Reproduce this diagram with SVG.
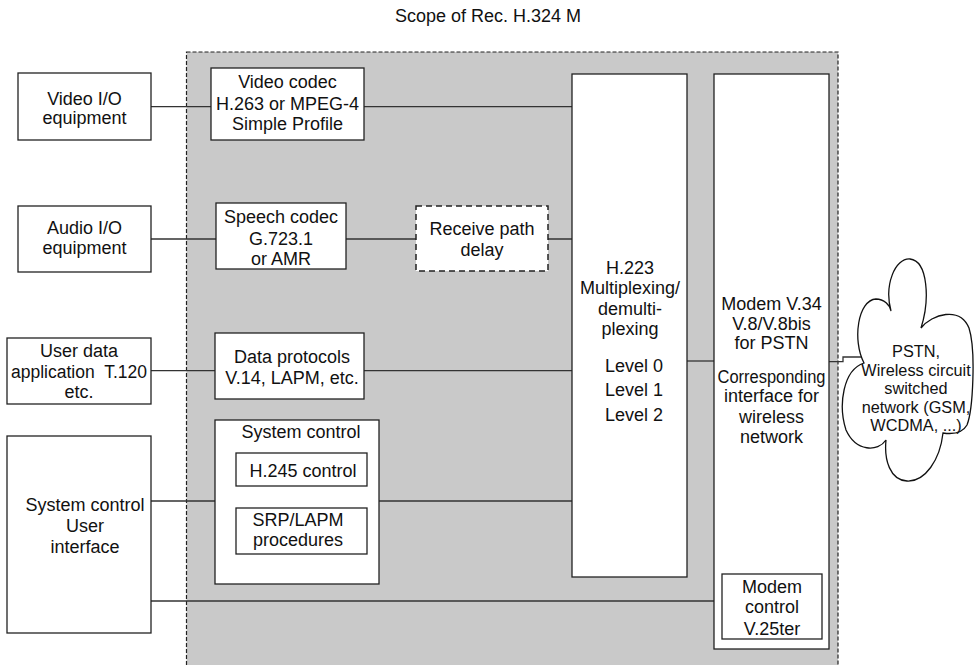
<svg xmlns="http://www.w3.org/2000/svg" width="974" height="665" viewBox="0 0 974 665">
<style>
text{font-family:"Liberation Sans",Arial,Helvetica,sans-serif;font-size:18px;fill:#111;text-anchor:middle}
.t{text-anchor:start}
.cl{font-size:16.3px}
.box{fill:#fff;stroke:#222;stroke-width:1.3}
.dbox{fill:#fff;stroke:#222;stroke-width:1.5;stroke-dasharray:6 4}
.scope{fill:#c9c9c9;stroke:#222;stroke-width:1.2;stroke-dasharray:4 2}
.ln{fill:none;stroke:#333;stroke-width:1.3}
</style>
<rect width="974" height="665" fill="#fff"/>
<text class="t" x="395" y="22">Scope of Rec. H.324 M</text>
<rect id="scope" class="scope" x="186.5" y="52" width="651.5" height="630"/>

<g id="connectors">
<path class="ln" d="M151,106.7H211M364,106.7H572"/>
<path class="ln" d="M151,239H216M346,239H416M548,239H572"/>
<path class="ln" d="M151,370.7H215M364,370.7H572"/>
<path class="ln" d="M151,501H215M379,501H572"/>
<path class="ln" d="M151,601H722"/>
<path class="ln" d="M687,361H714"/>
<path class="ln" d="M829,361.7H843V357H864"/>
</g>

<g id="video-io"><rect class="box" x="18" y="73" width="133" height="67"/>
<text x="84.5" y="104.5">Video I/O</text><text x="84.5" y="124">equipment</text></g>
<g id="audio-io"><rect class="box" x="18" y="206" width="133" height="66"/>
<text x="84.5" y="234">Audio I/O</text><text x="84.5" y="253.5">equipment</text></g>
<g id="user-data"><rect class="box" x="7" y="338" width="144" height="66"/>
<text x="79" y="357">User data</text><text x="79" y="378" textLength="136" lengthAdjust="spacingAndGlyphs" xml:space="preserve">application  T.120</text><text x="79" y="398">etc.</text></g>
<g id="sys-ui"><rect class="box" x="7" y="436" width="144" height="197"/>
<text x="85" y="510.5">System control</text><text x="85" y="532">User</text><text x="85" y="553">interface</text></g>

<g id="video-codec"><rect class="box" x="211" y="68" width="153" height="72"/>
<text x="287.5" y="88">Video codec</text><text x="287.5" y="109.5">H.263 or MPEG-4</text><text x="287.5" y="129.5">Simple Profile</text></g>
<g id="speech-codec"><rect class="box" x="216" y="203" width="130" height="66"/>
<text x="281" y="223">Speech codec</text><text x="281" y="244.5">G.723.1</text><text x="281" y="265">or AMR</text></g>
<g id="rx-delay"><rect class="dbox" x="416" y="206" width="132" height="65"/>
<text x="482" y="234.5">Receive path</text><text x="482" y="255.5">delay</text></g>
<g id="data-proto"><rect class="box" x="215" y="333" width="149" height="66"/>
<text x="292" y="363">Data protocols</text><text x="292" y="383.5">V.14, LAPM, etc.</text></g>
<g id="sys-ctrl"><rect class="box" x="215" y="420" width="164" height="164"/>
<text x="301" y="438">System control</text></g>
<g id="h245"><rect class="box" x="236" y="453" width="131" height="33"/>
<text x="303" y="476.5">H.245 control</text></g>
<g id="srp"><rect class="box" x="236" y="508" width="131" height="46"/>
<text x="298" y="525.5">SRP/LAPM</text><text x="298" y="545.5">procedures</text></g>

<g id="h223"><rect class="box" x="572" y="74" width="115" height="503"/>
<text x="630" y="274">H.223</text><text x="630" y="294">Multiplexing/</text><text x="630" y="314.5">demulti-</text><text x="630" y="334.5">plexing</text>
<text x="634" y="371.5">Level 0</text><text x="634" y="395.5">Level 1</text><text x="634" y="420.5">Level 2</text></g>
<g id="modem"><rect class="box" x="714" y="74" width="115" height="575"/>
<text x="771.5" y="309.5">Modem V.34</text><text x="771.5" y="329.5">V.8/V.8bis</text><text x="771.5" y="349">for PSTN</text>
<text x="771.5" y="382.5" textLength="108" lengthAdjust="spacingAndGlyphs">Corresponding</text><text x="771.5" y="402">interface for</text><text x="771.5" y="422.5">wireless</text><text x="771.5" y="442.5">network</text></g>
<g id="modem-ctrl"><rect class="box" x="722" y="574" width="100" height="65"/>
<text x="772" y="592.5">Modem</text><text x="772" y="613">control</text><text x="772" y="634.5">V.25ter</text></g>

<g id="network">
<path fill="#fff" stroke="#111" stroke-width="1.3" d="M864,363 C852,340 858,300 876,299 C884,299 890,305 891,311 C884,285 895,258 910,259 C928,261 930,300 921,328 C932,314 960,306 969,328 C976,350 973,410 967,425 C962,434 950,434 943,433 C940,460 925,482 907,481 C890,480 884,460 886,440 C878,452 856,452 846,430 C838,405 843,370 864,363 Z"/>
<text class="cl" x="916" y="357">PSTN,</text><text class="cl" x="916" y="375.5">Wireless circuit</text><text class="cl" x="916" y="394">switched</text><text class="cl" x="916" y="412.5">network (GSM,</text><text class="cl" x="916" y="431">WCDMA, ...)</text>
</g>
</svg>
